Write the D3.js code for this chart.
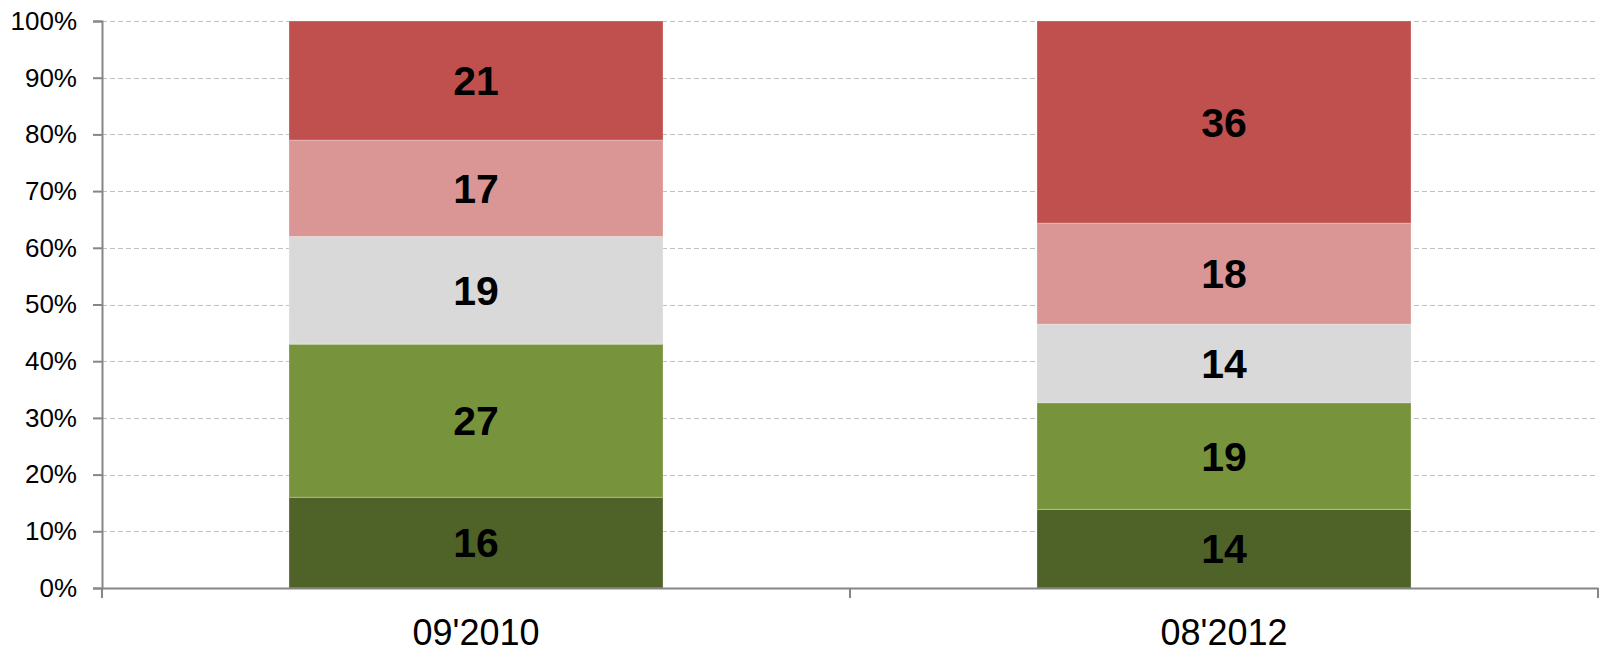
<!DOCTYPE html>
<html>
<head>
<meta charset="utf-8">
<script src="https://cdn.jsdelivr.net/npm/d3@7"></script>
<style>
  html, body { margin: 0; padding: 0; background: #fff; }
  svg { display: block; }
</style>
</head>
<body>
<svg id="chart" width="1602" height="661"></svg>
<script>
const categories = ["09'2010", "08'2012"];
const seriesNames = ["s1", "s2", "s3", "s4", "s5"];
const seriesValues = [
  [16, 14],
  [27, 19],
  [19, 14],
  [17, 18],
  [21, 36]
];
const seriesColors = ["#4F6228", "#77933C", "#D9D9D9", "#DA9694", "#C0504D"];
const yTicks = [0, 0.1, 0.2, 0.3, 0.4, 0.5, 0.6, 0.7, 0.8, 0.9, 1.0];

const svg = d3.select("#chart");
const margin = { left: 102, right: 4, top: 21, bottom: 73 };
const W = 1602, H = 661;
const x0 = margin.left, x1 = W - margin.right;
const y0 = H - margin.bottom, y1 = margin.top;

const x = d3.scaleBand().domain(categories).range([x0, x1]).paddingInner(0.5).paddingOuter(0.25);
const xOuter = d3.scaleBand().domain(categories).range([x0, x1]).padding(0);
const y = d3.scaleLinear().domain([0, 1]).range([y0, y1]);

const rows = categories.map((c, i) => {
  const row = { cat: c };
  seriesNames.forEach((s, j) => row[s] = seriesValues[j][i]);
  return row;
});
const stack = d3.stack().keys(seriesNames).offset(d3.stackOffsetExpand);
const stacked = stack(rows);

// gridlines
svg.append("g").selectAll("line").data(yTicks.slice(1)).join("line")
  .attr("x1", x0).attr("x2", x1)
  .attr("y1", d => Math.round(y(d)) + 0.5).attr("y2", d => Math.round(y(d)) + 0.5)
  .attr("stroke", "#BFBFBF").attr("stroke-width", 1).attr("stroke-dasharray", "5,3");

// bars
const layers = svg.append("g").selectAll("g").data(stacked).join("g")
  .attr("fill", (d, i) => seriesColors[i]);
layers.selectAll("rect").data(d => d.map(p => ({ p, key: d.key }))).join("rect")
  .attr("x", d => x(d.p.data.cat))
  .attr("width", x.bandwidth())
  .attr("y", d => y(d.p[1]))
  .attr("height", d => y(d.p[0]) - y(d.p[1]))
  .attr("stroke", "rgba(255,255,255,0.25)").attr("stroke-width", 1);

// labels
layers.selectAll("text").data(d => d.map(p => ({ p, key: d.key }))).join("text")
  .attr("x", d => x(d.p.data.cat) + x.bandwidth() / 2)
  .attr("y", d => (y(d.p[0]) + y(d.p[1])) / 2)
  .attr("dy", "0.36em")
  .attr("text-anchor", "middle")
  .attr("font-family", "Liberation Sans, Arial, sans-serif")
  .attr("font-weight", "bold")
  .attr("font-size", 41)
  .attr("fill", "#000")
  .text(d => d.p.data[d.key]);

// y axis
const yAxis = svg.append("g").attr("transform", `translate(${x0},0)`)
  .call(d3.axisLeft(y).tickValues(yTicks).tickFormat(d3.format(".0%")).tickSize(9).tickPadding(16));
yAxis.select(".domain").attr("stroke", "#868686").attr("stroke-width", 2);
yAxis.selectAll(".tick line").attr("stroke", "#868686").attr("stroke-width", 2);
yAxis.selectAll(".tick text")
  .attr("font-family", "Liberation Sans, Arial, sans-serif")
  .attr("font-size", 26).attr("fill", "#000");

// x axis
const xAxis = svg.append("g").attr("transform", `translate(0,${y0})`)
  .call(d3.axisBottom(xOuter).tickSize(0).tickPadding(31));
xAxis.select(".domain").attr("stroke", "#868686").attr("stroke-width", 2);
xAxis.selectAll(".tick text")
  .attr("font-family", "Liberation Sans, Arial, sans-serif")
  .attr("font-size", 36).attr("fill", "#000");
// category separators
const seps = [x0].concat(categories.map(c => xOuter(c) + xOuter.bandwidth()));
svg.append("g").selectAll("line").data(seps).join("line")
  .attr("x1", d => d).attr("x2", d => d)
  .attr("y1", y0).attr("y2", y0 + 10)
  .attr("stroke", "#868686").attr("stroke-width", 2);
</script>
</body>
</html>
